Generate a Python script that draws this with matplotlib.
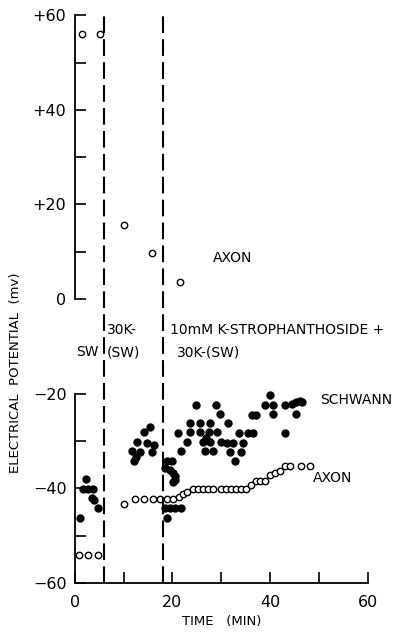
import matplotlib

matplotlib.use('Agg')

import matplotlib.pyplot as plt

# axon potential, open circles (min, mV)
axon_t = [1.4, 5.1, 10.0, 15.8, 21.5]
axon_v = [56, 56, 15.6, 9.7, 3.7]

axon_low_t = [0.9, 2.7, 4.8,
              10.1, 12.3, 14.1, 16.0, 17.4, 18.8, 20.2, 21.3, 22.2, 23.0,
              24.2, 25.2, 26.2, 27.2, 28.2, 30.0, 31.0, 32.0, 33.0, 34.0, 35.0,
              36.1, 37.0, 38.0, 39.0, 40.0, 41.0, 42.0, 43.0, 44.0, 46.3, 48.1]
axon_low_v = [-54.2, -54.2, -54.2,
              -43.4, -42.3, -42.3, -42.3, -42.3, -42.3, -42.3, -41.8, -41.2, -40.8,
              -40.2, -40.2, -40.2, -40.2, -40.2, -40.2, -40.2, -40.2, -40.2, -40.2, -40.2,
              -39.4, -38.4, -38.4, -38.4, -37.3, -36.8, -36.3, -35.3, -35.3, -35.3, -35.3]

# schwann cell potential, filled circles
schwann_t = [1.0, 2.2, 1.6, 2.7, 3.8, 3.5, 4.0, 4.8,
             11.7, 12.2, 12.6, 13.3, 14.1, 14.8, 15.4, 15.8, 16.2, 12.8,
             18.4, 19.5, 20.1, 20.5, 20.5, 20.1, 18.8, 20.0,
             18.4, 19.5, 20.5, 21.7, 18.8,
             21.2, 21.8, 22.9, 23.5, 23.6, 24.9, 25.6, 25.6, 26.3, 26.6, 26.8,
             27.6, 27.4, 27.7, 28.3, 28.9, 29.2, 29.7, 30.0, 31.1, 31.4, 31.7,
             32.4, 32.8, 33.6, 34.1, 34.5, 35.5, 36.2, 36.5, 37.1, 38.9, 39.9,
             40.6, 40.6, 43.0, 43.0, 44.4, 45.3, 45.3, 46.1, 46.6]
schwann_v = [-46.2, -38.1, -40.1, -40.1, -40.1, -42.1, -42.4, -44.1,
             -32.2, -34.2, -33.4, -32.4, -28.2, -30.4, -27.1, -32.3, -30.9, -30.3,
             -35.8, -36.1, -36.8, -37.5, -38.2, -38.6, -34.2, -34.2,
             -44.2, -44.2, -44.2, -44.2, -46.2,
             -28.3, -32.1, -30.2, -26.3, -28.2, -22.3, -26.3, -28.2, -30.2, -32.1, -29.3,
             -26.3, -28.2, -30.2, -32.1, -22.3, -28.2, -24.2, -30.2, -30.4, -26.3, -32.3,
             -30.5, -34.3, -28.4, -32.3, -30.5, -28.4, -24.5, -28.4, -24.5, -22.4, -20.3,
             -22.4, -24.4, -22.4, -28.4, -22.2, -21.7, -24.4, -21.5, -21.7]

# solution changes
change_t = [6.0, 18.0]

yticks = [-60, -40, -20, 0, 20, 40, 60]
ytick_labels = ['\u221260', '\u221240', '\u221220', '0', '+20', '+40', '+60']
yminor = [-50, -30, 10, 30, 50]

fig = plt.figure(figsize=(4.11, 6.37), dpi=100)
ax = fig.add_axes([0.182, 0.085, 0.713, 0.891])

ax.plot(axon_t, axon_v, 'o', mfc='white', mec='black', ms=4.6, mew=1.0, clip_on=False)
ax.plot(axon_low_t, axon_low_v, 'o', mfc='white', mec='black', ms=4.6, mew=1.0, clip_on=False)
ax.plot(schwann_t, schwann_v, 'o', color='black', ms=5, clip_on=False)

for t in change_t:
    ax.plot([t, t], [-60, 61], color='black', lw=1.5, ls=(0, (8, 3)), clip_on=False)

ax.set_xlim(0, 60)
ax.set_ylim(-60, 60)

# left axis is interrupted between 0 and -20
ax.spines['left'].set_visible(False)
ax.spines['top'].set_visible(False)
ax.spines['right'].set_visible(False)
ax.spines['bottom'].set_linewidth(1.3)
ax.plot([0, 0], [0, 60], color='black', lw=1.3, clip_on=False)
ax.plot([0, 0], [-60, -20], color='black', lw=1.3, clip_on=False)

ax.set_yticks(yticks)
ax.set_yticklabels(ytick_labels, fontsize=11.5)
ax.set_yticks(yminor, minor=True)
ax.set_xticks([0, 20, 40, 60])
ax.set_xticks([10, 30, 50], minor=True)
ax.tick_params(which='both', direction='in', length=8, width=1.2, labelsize=11.5)
ax.tick_params(axis='x', pad=9)
ax.tick_params(axis='y', pad=6)

ax.set_xlabel('TIME   (MIN)', fontsize=9.5, labelpad=3)
fig.text(0.037, 0.415, 'ELECTRICAL  POTENTIAL  (mv)', rotation=90,
         fontsize=9.5, ha='center', va='center')

ax.text(28.3, 8.7, 'AXON', fontsize=10, va='center')
ax.text(50.2, -21.3, 'SCHWANN', fontsize=10, va='center')
ax.text(48.7, -37.8, 'AXON', fontsize=10, va='center')
ax.text(0.3, -11.2, 'SW', fontsize=10, va='center')
ax.text(6.6, -6.6, '30K-', fontsize=10, va='center')
ax.text(6.6, -11.2, '(SW)', fontsize=10, va='center')
ax.text(19.4, -6.6, '10mM K-STROPHANTHOSIDE +', fontsize=10, va='center')
ax.text(21.0, -11.2, '30K-(SW)', fontsize=10, va='center')

plt.savefig('out.png', dpi=100)
plt.close()
